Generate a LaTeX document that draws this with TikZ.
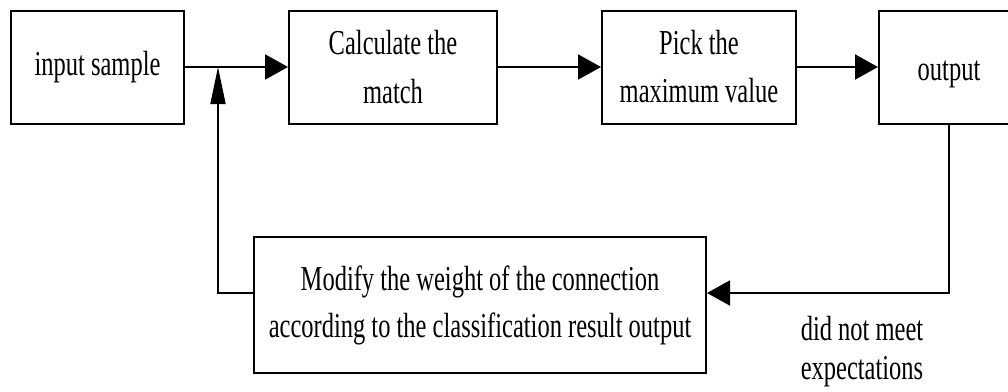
\documentclass[tikz,border=0pt]{standalone}
\usepackage{fontspec}
\setmainfont{Liberation Serif}[FakeStretch=0.70]
\usetikzlibrary{arrows.meta}
\begin{document}
\begin{tikzpicture}[x=1pt,y=-1pt,
  box/.style={draw,line width=2pt,rectangle,inner sep=0pt,align=center},
  harrow/.style={line width=2pt,-{Triangle[length=23pt,width=25pt]}},
  varrow/.style={line width=1.8pt,-{Triangle[length=37pt,width=15pt]}},
  lbl/.style={inner sep=0pt,align=center}]
\useasboundingbox[fill=white] (0,0) rectangle (1008,391);
\node[box,minimum width=173pt,minimum height=113pt,font=\fontsize{35}{47}\selectfont] (b1) at (97.5,67) {input sample};
\node[box,minimum width=208pt,minimum height=113pt,font=\fontsize{35}{49}\selectfont] (b2) at (393,67) {Calculate the\\match};
\node[box,minimum width=194pt,minimum height=113pt,font=\fontsize{35}{48}\selectfont] (b3) at (699,67) {Pick the\\maximum value};
\node[box,minimum width=140pt,minimum height=113pt,text height=33pt,text depth=7pt,font=\fontsize{35}{47}\selectfont] (b4) at (949,67) {output};
\node[box,minimum width=452pt,minimum height=136pt,font=\fontsize{35}{47}\selectfont] (b5) at (480,305) {Modify the weight of the connection\\according to the classification result output};
\node[lbl,font=\fontsize{35}{39}\selectfont] (l1) at (862,351.5) {did not meet\\expectations};
\coordinate (j) at (218,67);
\coordinate (turn) at (949,293);
\draw[harrow] (b1.east) -- (b2.west);
\draw[harrow] (b2.east) -- (b3.west);
\draw[harrow] (b3.east) -- (b4.west);
\draw[harrow] (b4.south) |- (b5.east |- turn);
\draw[line width=2pt] (b5.west |- turn) -| ([yshift=-40pt]j);
\draw[varrow] ([yshift=-40pt]j) -- (j);
\end{tikzpicture}
\end{document}
